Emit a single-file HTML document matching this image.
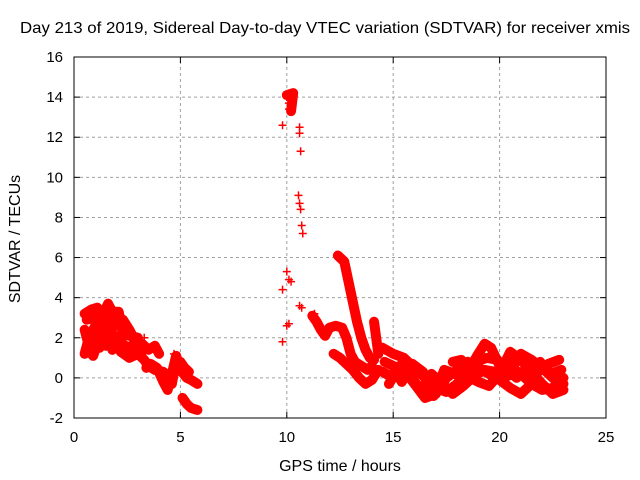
<!DOCTYPE html>
<html><head><meta charset="utf-8"><style>
body{margin:0;background:#fff}
svg{display:block;font-family:"Liberation Sans",sans-serif}
</style></head><body>
<svg id="chart" width="640" height="480" viewBox="0 0 640 480">
<text x="20" y="33" font-size="16" textLength="610" lengthAdjust="spacingAndGlyphs">Day 213 of 2019, Sidereal Day-to-day VTEC variation (SDTVAR) for receiver xmis</text>
<text x="340" y="471" font-size="16" text-anchor="middle">GPS time / hours</text>
<text x="20" y="239" font-size="16" text-anchor="middle" transform="rotate(-90 20 239)">SDTVAR / TECUs</text>
<g id="grid"></g>
<g id="ticks"></g>
<g id="marks"></g>
<rect x="74" y="57" width="532" height="361" fill="none" stroke="#000" stroke-width="1"/>
</svg>
<script>
const xTicks=[0,5,10,15,20,25];
const yTicks=[-2,0,2,4,6,8,10,12,14,16];
const trackA1=[[0.5,3.2],[0.8,3.4],[1.1,3.5],[1.3,3.0],[1.6,3.7],[1.8,3.3],[2.1,3.3],[2.3,2.2],[2.6,2.1],[3.0,2.0]];
const trackA2=[[0.5,1.2],[0.7,2.0],[0.9,2.4],[1.1,2.8],[1.3,2.2],[1.5,1.6],[1.7,2.3],[2.0,2.0],[2.4,1.6],[2.8,1.4],[3.2,1.7],[3.5,1.4],[3.8,1.6],[4.0,1.2]];
const trackA3=[[0.5,2.4],[0.7,1.6],[0.9,1.8],[1.2,1.5],[1.4,2.2],[1.6,2.6],[1.9,1.9],[2.2,1.3],[2.6,1.0],[3.0,1.2],[3.3,0.9],[3.5,0.6],[3.8,0.4],[4.2,0.3],[4.4,0.1],[4.6,-0.3],[4.7,0.3],[5.0,0.8],[5.2,0.5],[5.4,0.3]];
const trackA4=[[3.4,0.5],[3.6,0.7],[3.9,0.5],[4.2,-0.2],[4.4,-0.6],[4.6,0.2],[4.8,1.1],[5.0,0.4],[5.3,0.0],[5.5,-0.1],[5.8,-0.3]];
const trackA5=[[5.1,-1.0],[5.3,-1.3],[5.5,-1.5],[5.8,-1.6]];
const trackA6=[[0.6,2.9],[0.9,3.0],[1.2,2.4],[1.5,3.2],[1.8,2.8],[2.0,2.6],[2.3,2.9],[2.6,2.4],[2.9,1.8],[3.2,1.3]];
const trackA7=[[0.6,1.5],[0.9,1.1],[1.2,2.0],[1.5,2.9],[1.8,1.4],[2.1,1.7],[2.4,1.2],[2.7,1.6],[3.0,1.5]];
const trackPeak=[[10.0,14.1],[10.3,14.2],[10.2,13.3]];
const trackB=[[11.2,3.1],[11.4,2.8],[11.6,2.4],[11.8,2.1],[12.0,2.5],[12.3,2.6],[12.6,2.5],[12.8,2.0],[13.0,1.2],[13.2,0.8],[13.5,0.6],[13.8,0.4],[14.0,0.6]];
const trackC=[[12.4,6.1],[12.7,5.8],[12.9,4.8],[13.1,3.8],[13.3,2.8],[13.5,2.0],[13.7,1.4],[13.9,1.0],[14.1,0.9]];
const trackD=[[12.2,1.2],[12.5,1.0],[12.8,0.7],[13.1,0.4],[13.4,0.0],[13.7,-0.3],[14.0,-0.1],[14.3,0.4]];
const trackSpike=[[14.1,2.8],[14.2,2.0],[14.3,1.2]];
const trackE1=[[14.5,1.5],[15.0,1.2],[15.5,1.0],[16.0,0.5],[16.5,0.0],[17.0,-0.5],[17.5,-0.7],[18.0,-0.3],[18.5,0.3],[19.0,1.2],[19.3,1.7],[19.6,1.5],[20.0,0.6],[20.5,0.3],[21.0,1.2],[21.5,0.9],[22.0,0.5],[22.5,0.0],[23.0,-0.3]];
const trackE2=[[14.5,0.3],[15.0,0.0],[15.5,0.4],[16.0,-0.3],[16.5,-1.0],[17.0,-0.8],[17.5,0.0],[18.0,0.4],[18.5,0.8],[19.0,0.5],[19.5,0.2],[20.0,-0.1],[20.5,-0.5],[21.0,-0.8],[21.5,-0.3],[22.0,-0.6],[22.5,-0.5],[23.0,0.0]];
const trackE3=[[14.8,-0.3],[15.3,0.6],[15.8,0.1],[16.3,-0.6],[16.8,0.2],[17.3,-0.3],[17.8,-0.8],[18.3,-0.4],[18.8,0.1],[19.3,0.4],[19.8,0.3],[20.3,0.5],[20.8,0.0],[21.3,0.5],[21.8,0.3],[22.3,0.7],[22.8,0.9]];
const trackE4=[[17.8,0.8],[18.2,0.9],[18.6,0.0],[19.0,-0.2],[19.5,-0.4],[20.0,0.2],[20.5,1.3],[21.0,0.9],[21.5,0.3],[22.0,-0.3],[22.5,-0.8],[23.0,-0.6]];
const trackE5=[[14.6,0.8],[15.0,0.6],[15.4,-0.2],[15.9,0.7],[16.4,0.3],[16.9,-0.9],[17.4,0.4],[17.9,0.2],[18.4,-0.1],[18.9,0.8],[19.4,1.0],[19.9,0.9],[20.4,0.1],[20.9,0.3],[21.4,-0.2],[21.9,0.8],[22.4,0.2],[22.9,0.4]];
const isolated=[[9.8,12.6],[9.8,4.4],[9.8,1.8],[10.0,14.0],[10.1,13.7],[10.2,14.1],[10.3,13.9],[10.1,13.4],[10.6,12.5],[10.6,12.2],[10.65,11.3],[10.55,9.1],[10.6,8.7],[10.65,8.4],[10.7,7.6],[10.75,7.2],[10.0,5.3],[10.1,4.9],[10.2,4.8],[10.1,2.7],[10.0,2.6],[10.6,3.6],[10.7,3.5],[11.3,3.2],[3.3,2.0],[4.7,1.2]];
const tracks=[trackA1,trackA2,trackA3,trackA4,trackA5,trackA6,trackA7,trackPeak,trackB,trackC,trackD,trackSpike,trackE1,trackE2,trackE3,trackE4,trackE5];

const X0=74,X1=606,Y0=418,Y1=57;
const sx=v=>X0+(v-0)/(25-0)*(X1-X0);
const sy=v=>Y0-(v-(-2))/(16-(-2))*(Y0-Y1);
const NS='http://www.w3.org/2000/svg';
const grid=document.getElementById('grid'),ticks=document.getElementById('ticks'),marks=document.getElementById('marks');
function mk(tag,attrs,parent){const e=document.createElementNS(NS,tag);for(const k in attrs)e.setAttribute(k,attrs[k]);parent.appendChild(e);return e;}
xTicks.forEach(t=>{
  const x=sx(t);
  if(t>0&&t<25){const g=mk('line',{x1:x,x2:x,y1:Y0,y2:Y1,stroke:'#a0a0a0','stroke-dasharray':'3,3'},grid);
  
  }
  mk('line',{x1:x,x2:x,y1:Y0,y2:Y0-6,stroke:'#000'},ticks);
  mk('line',{x1:x,x2:x,y1:Y1,y2:Y1+6,stroke:'#000'},ticks);
  const l=mk('text',{x:x,y:Y0+24,'font-size':15,'text-anchor':'middle'},ticks);l.textContent=t;
  
  
});
yTicks.forEach(t=>{
  const y=sy(t);
  if(t>-2&&t<16){const g=mk('line',{x1:X0,x2:X1,y1:y,y2:y,stroke:'#a0a0a0','stroke-dasharray':'3,3'},grid);
  
  }
  mk('line',{x1:X0,x2:X0+6,y1:y,y2:y,stroke:'#000'},ticks);
  mk('line',{x1:X1,x2:X1-6,y1:y,y2:y,stroke:'#000'},ticks);
  const l=mk('text',{x:X0-11,y:y+5,'font-size':15,'text-anchor':'end'},ticks);l.textContent=t;
  
  
});
function plus(p){
  const x=sx(p[0]),y=sy(p[1]);
  const e=mk('path',{d:`M${x-4},${y}H${x+4}M${x},${y-4}V${y+4}`,stroke:'#f00','stroke-width':1.5,fill:'none'},marks);
  
  
}
tracks.forEach(tr=>{
  const pl=mk('polyline',{points:tr.map(p=>sx(p[0])+','+sy(p[1])).join(' '),fill:'none',stroke:'#f00','stroke-width':10,'stroke-linejoin':'round','stroke-linecap':'round'},marks);
  
  
  tr.forEach(plus);
});
isolated.forEach(plus);
</script>
</body></html>
